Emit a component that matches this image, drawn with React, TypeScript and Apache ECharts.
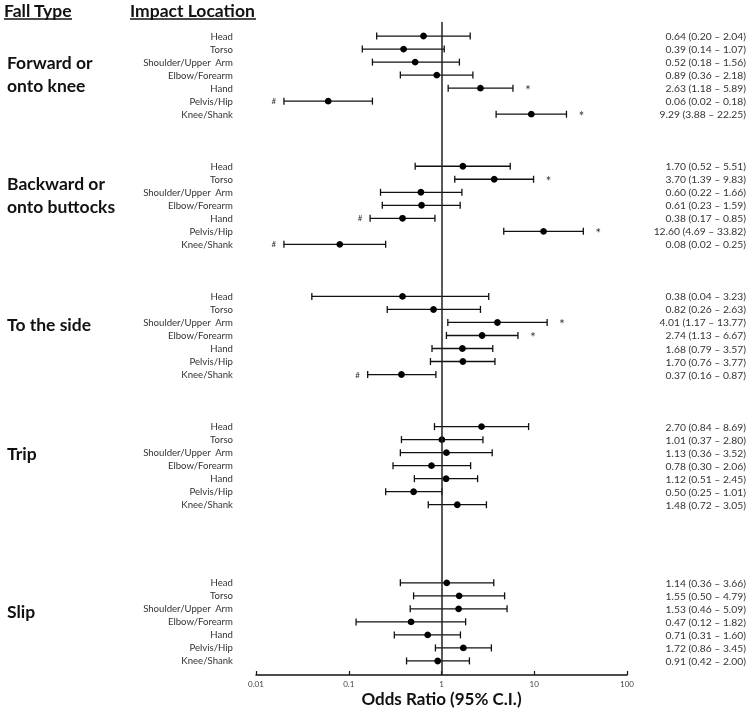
import React, { useEffect, useRef } from 'react';
import * as echarts from 'echarts';

const locations = ['Head', 'Torso', 'Shoulder/Upper  Arm', 'Elbow/Forearm', 'Hand', 'Pelvis/Hip', 'Knee/Shank'];
const fallTypes = ['Forward or\nonto knee', 'Backward or\nonto buttocks', 'To the side', 'Trip', 'Slip'];
const groupStartSlots = [0, 10, 20, 30, 42];

const oddsRatio = [
  [0.64, 0.39, 0.52, 0.89, 2.63, 0.06, 9.29],
  [1.70, 3.70, 0.60, 0.61, 0.38, 12.60, 0.08],
  [0.38, 0.82, 4.01, 2.74, 1.68, 1.70, 0.37],
  [2.70, 1.01, 1.13, 0.78, 1.12, 0.50, 1.48],
  [1.14, 1.55, 1.53, 0.47, 0.71, 1.72, 0.91],
];
const lowerCI = [
  [0.20, 0.14, 0.18, 0.36, 1.18, 0.02, 3.88],
  [0.52, 1.39, 0.22, 0.23, 0.17, 4.69, 0.02],
  [0.04, 0.26, 1.17, 1.13, 0.79, 0.76, 0.16],
  [0.84, 0.37, 0.36, 0.30, 0.51, 0.25, 0.72],
  [0.36, 0.50, 0.46, 0.12, 0.31, 0.86, 0.42],
];
const upperCI = [
  [2.04, 1.07, 1.56, 2.18, 5.89, 0.18, 22.25],
  [5.51, 9.83, 1.66, 1.59, 0.85, 33.82, 0.25],
  [3.23, 2.63, 13.77, 6.67, 3.57, 3.77, 0.87],
  [8.69, 2.80, 3.52, 2.06, 2.45, 1.01, 3.05],
  [3.66, 4.79, 5.09, 1.82, 1.60, 3.45, 2.00],
];
const significance = [
  ['', '', '', '', '*', '#', '*'],
  ['', '*', '', '', '#', '*', '#'],
  ['', '', '*', '*', '', '', '#'],
  ['', '', '', '', '', '', ''],
  ['', '', '', '', '', '', ''],
];
const xTicks = [0.01, 0.1, 1, 10, 100];

const FONT = 'Lato, "Open Sans", sans-serif';

export default function App() {
  const ref = useRef<HTMLDivElement>(null);
  useEffect(() => {
    if (!ref.current) return;
    const chart = echarts.init(ref.current, undefined, { renderer: 'svg' });

    const rows: any[] = [];
    fallTypes.forEach((_, g) => {
      locations.forEach((loc, i) => {
        rows.push({
          loc,
          slot: groupStartSlots[g] + i,
          or: oddsRatio[g][i],
          lo: lowerCI[g][i],
          hi: upperCI[g][i],
          mark: significance[g][i],
        });
      });
    });

    const fallLabelPos = [
      { x: 7, y: 74 },
      { x: 7, y: 195 },
      { x: 7, y: 324 },
      { x: 7, y: 453 },
      { x: 7, y: 611 },
    ];

    const graphics: any[] = [
      { type: 'text', left: 4, top: 1, style: { text: 'Fall Type', font: `bold 17.5px ${FONT}`, fill: '#111' } },
      { type: 'line', shape: { x1: 4, y1: 19, x2: 72, y2: 19 }, style: { stroke: '#111', lineWidth: 1.3 } },
      { type: 'text', left: 130, top: 1, style: { text: 'Impact Location', font: `bold 17.5px ${FONT}`, fill: '#111' } },
      { type: 'line', shape: { x1: 130, y1: 19, x2: 256, y2: 19 }, style: { stroke: '#111', lineWidth: 1.3 } },
      ...fallTypes.map((t, g) => ({
        type: 'text',
        x: fallLabelPos[g].x,
        y: fallLabelPos[g].y,
        style: {
          text: t,
          font: `bold 17.5px ${FONT}`,
          fill: '#111',
          verticalAlign: 'middle',
          lineHeight: 23,
        },
      })),
    ];

    chart.setOption({
      animation: false,
      grid: { left: 256, right: 123, top: 22, bottom: 44 },
      xAxis: {
        type: 'log',
        logBase: 10,
        min: xTicks[0],
        max: xTicks[xTicks.length - 1],
        axisLine: { show: true, onZero: false, lineStyle: { color: '#111', width: 1.5 } },
        axisTick: { show: true, inside: true, length: 4, lineStyle: { color: '#111', width: 1.2 } },
        axisLabel: { fontSize: 8, color: '#444', margin: 5, fontFamily: FONT },
        splitLine: { show: false },
        minorTick: { show: false },
        name: 'Odds Ratio (95% C.I.)',
        nameLocation: 'middle',
        nameGap: 15,
        nameMoveOverlap: false,
        nameTextStyle: { fontSize: 17, fontWeight: 'bold', color: '#111', fontFamily: FONT },
      },
      yAxis: {
        type: 'value',
        inverse: true,
        min: -1.08,
        max: 49.08,
        show: false,
      },
      graphic: graphics,
      series: [
        {
          type: 'custom',
          clip: false,
          encode: { x: [0, 1, 2], y: 3 },
          data: rows.map((r) => [r.lo, r.hi, r.or, r.slot]),
          markLine: {
            silent: true,
            symbol: 'none',
            label: { show: false },
            lineStyle: { color: '#222', width: 1.5, type: 'solid' },
            data: [{ xAxis: 1 }],
          },
          renderItem: (params: any, api: any) => {
            const r = rows[params.dataIndex];
            const lo = api.value(0);
            const hi = api.value(1);
            const or = api.value(2);
            const slot = api.value(3);
            const pl = api.coord([lo, slot]);
            const ph = api.coord([hi, slot]);
            const po = api.coord([or, slot]);
            const y = pl[1];
            const stroke = { stroke: '#111', lineWidth: 1.3 };
            const children: any[] = [
              { type: 'line', shape: { x1: pl[0], y1: y, x2: ph[0], y2: y }, style: stroke },
              { type: 'line', shape: { x1: pl[0], y1: y - 3.5, x2: pl[0], y2: y + 3.5 }, style: stroke },
              { type: 'line', shape: { x1: ph[0], y1: y - 3.5, x2: ph[0], y2: y + 3.5 }, style: stroke },
              { type: 'circle', shape: { cx: po[0], cy: y, r: 3.4 }, style: { fill: '#000' } },
              {
                type: 'text',
                x: 233,
                y,
                style: { text: r.loc, align: 'right', verticalAlign: 'middle', font: `9.6px ${FONT}`, fill: '#333' },
              },
              {
                type: 'text',
                x: 746,
                y,
                style: {
                  text: `${r.or.toFixed(2)} (${r.lo.toFixed(2)} – ${r.hi.toFixed(2)})`,
                  align: 'right',
                  verticalAlign: 'middle',
                  font: `10.3px ${FONT}`,
                  fill: '#333',
                },
              },
            ];
            if (r.mark === '*') {
              children.push({
                type: 'text',
                x: ph[0] + 15,
                y: y + 2,
                style: { text: '*', align: 'center', verticalAlign: 'middle', font: `13px ${FONT}`, fill: '#333' },
              });
            } else if (r.mark === '#') {
              children.push({
                type: 'text',
                x: pl[0] - 10,
                y,
                style: { text: '#', align: 'center', verticalAlign: 'middle', font: `8px ${FONT}`, fill: '#333' },
              });
            }
            return { type: 'group', children };
          },
        },
      ],
    });
    return () => chart.dispose();
  }, []);
  return <div ref={ref} style={{ position: 'fixed', left: 0, top: 0, width: 750, height: 719 }} />;
}
